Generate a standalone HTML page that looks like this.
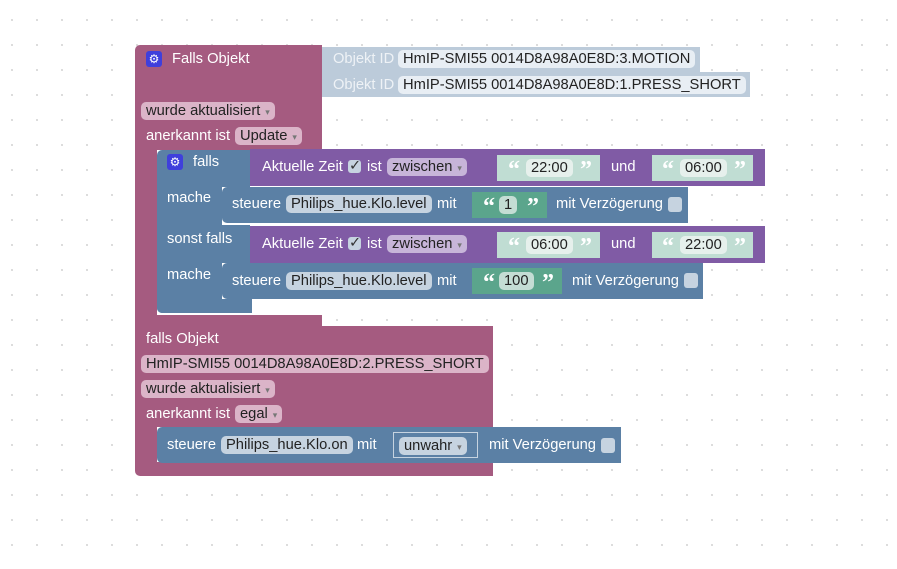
<!DOCTYPE html>
<html><head><meta charset="utf-8"><style>
html,body{margin:0;padding:0;}
body{width:897px;height:569px;position:relative;overflow:hidden;background:#fff;
background-image:radial-gradient(circle,#d6d6d6 0.8px,transparent 1.2px);background-size:25px 25px;background-position:-0.5px 7.5px;
font-family:"Liberation Sans",sans-serif;font-size:14.7px;}
.b{position:absolute;}
.pk{background:#a55b80;}
.pu{background:#805ba5;}
.bl{background:#5b80a5;}
.ob{background:#bccbda;}
.st{background:#c0ddd3;}
.gr{background:#5ba58c;}
.t{position:absolute;color:#fff;white-space:nowrap;line-height:18px;}
.f{position:absolute;border-radius:5px;color:#222;white-space:nowrap;line-height:18px;padding:0 5px;height:18px;}
.fp{background:#dbb4c8;}
.fb{background:#c6d3e0;}
.fpu{background:#c7b5d9;}
.fs{background:#e6f0ec;}
.fg{background:#c4ddd4;}
.dd:after{content:"  ▾";font-size:9px;color:#777;white-space:pre;}
.q{position:absolute;color:#fff;font-weight:bold;font-family:"Liberation Serif",serif;font-size:24px;line-height:24px;}
.gear{position:absolute;width:16px;height:16px;background:#3f3fdc;border-radius:3px;color:#fff;font-size:12px;line-height:16px;text-align:center;}
.cb{position:absolute;width:13px;height:13px;border-radius:3px;background:#c6d3e0;}
</style></head><body>

<!-- Block 1 pink -->
<div class="b pk" style="left:135px;top:45px;width:187px;height:105px;border-radius:5px 0 0 0"></div>
<div class="b pk" style="left:135px;top:150px;width:22px;height:176px"></div>
<div class="b pk" style="left:135px;top:315px;width:187px;height:11px"></div>
<div class="gear" style="left:146px;top:51px">⚙</div>
<div class="t" style="left:172px;top:50px">Falls Objekt</div>
<div class="f fp dd" style="left:141px;top:102px">wurde aktualisiert</div>
<div class="t" style="left:146px;top:127px">anerkannt ist</div>
<div class="f fp dd" style="left:235px;top:127px">Update</div>

<!-- Objekt ID -->
<div class="b ob" style="left:322px;top:47px;width:378px;height:25px"></div>
<div class="b ob" style="left:322px;top:72px;width:428px;height:25px"></div>
<div class="t" style="left:333px;top:50px;color:#eef2f6">Objekt ID</div>
<div class="f fs" style="left:398px;top:50px;background:#e8eef4">HmIP-SMI55 0014D8A98A0E8D:3.MOTION</div>
<div class="t" style="left:333px;top:76px;color:#eef2f6">Objekt ID</div>
<div class="f fs" style="left:398px;top:76px;background:#e8eef4">HmIP-SMI55 0014D8A98A0E8D:1.PRESS_SHORT</div>

<!-- blue falls block -->
<div class="b bl" style="left:157px;top:150px;width:93px;height:37px;border-radius:5px 0 0 0"></div>
<div class="b bl" style="left:157px;top:186px;width:65px;height:127px;border-radius:0 0 0 5px"></div>
<div class="b bl" style="left:157px;top:225px;width:93px;height:38px"></div>
<div class="b bl" style="left:157px;top:299px;width:95px;height:14px;border-radius:0 0 0 5px"></div>
<div class="gear" style="left:167px;top:154px">⚙</div>
<div class="t" style="left:193px;top:153px">falls</div>
<div class="t" style="left:167px;top:189px">mache</div>
<div class="t" style="left:167px;top:230px">sonst falls</div>
<div class="t" style="left:167px;top:266px">mache</div>

<!-- purple 1 -->
<div class="b pu" style="left:250px;top:149px;width:515px;height:37px"></div>
<div class="t" style="left:262px;top:158px">Aktuelle Zeit</div>
<div class="cb" style="left:348px;top:160px"></div><div class="t" style="left:349px;top:157px;color:#333">✓</div>
<div class="t" style="left:367px;top:158px">ist</div>
<div class="f fpu dd" style="left:387px;top:158px">zwischen</div>
<div class="b st" style="left:497px;top:155px;width:103px;height:26px"></div>
<div class="q" style="left:508px;top:158px">“</div><div class="f fs" style="left:526px;top:159px">22:00</div><div class="q" style="left:580px;top:158px">”</div>
<div class="t" style="left:611px;top:158px">und</div>
<div class="b st" style="left:652px;top:155px;width:101px;height:26px"></div>
<div class="q" style="left:662px;top:158px">“</div><div class="f fs" style="left:680px;top:159px">06:00</div><div class="q" style="left:734px;top:158px">”</div>

<!-- steuere 1 -->
<div class="b bl" style="left:222px;top:187px;width:466px;height:36px;border-radius:5px 0 0 5px"></div>
<div class="t" style="left:232px;top:195px">steuere</div>
<div class="f fb" style="left:286px;top:195px">Philips_hue.Klo.level</div>
<div class="t" style="left:437px;top:195px">mit</div>
<div class="b gr" style="left:472px;top:192px;width:75px;height:26px"></div>
<div class="q" style="left:483px;top:195px">“</div><div class="f fg" style="left:499px;top:196px">1</div><div class="q" style="left:527px;top:195px">”</div>
<div class="t" style="left:556px;top:195px">mit Verzögerung</div>
<div class="cb" style="left:668px;top:197px;width:14px;height:15px"></div>

<!-- purple 2 -->
<div class="b pu" style="left:250px;top:226px;width:515px;height:37px"></div>
<div class="t" style="left:262px;top:235px">Aktuelle Zeit</div>
<div class="cb" style="left:348px;top:237px"></div><div class="t" style="left:349px;top:234px;color:#333">✓</div>
<div class="t" style="left:367px;top:235px">ist</div>
<div class="f fpu dd" style="left:387px;top:235px">zwischen</div>
<div class="b st" style="left:497px;top:232px;width:103px;height:26px"></div>
<div class="q" style="left:508px;top:235px">“</div><div class="f fs" style="left:526px;top:236px">06:00</div><div class="q" style="left:580px;top:235px">”</div>
<div class="t" style="left:611px;top:235px">und</div>
<div class="b st" style="left:652px;top:232px;width:101px;height:26px"></div>
<div class="q" style="left:662px;top:235px">“</div><div class="f fs" style="left:680px;top:236px">22:00</div><div class="q" style="left:734px;top:235px">”</div>

<!-- steuere 2 -->
<div class="b bl" style="left:222px;top:263px;width:481px;height:36px;border-radius:5px 0 0 5px"></div>
<div class="t" style="left:232px;top:272px">steuere</div>
<div class="f fb" style="left:286px;top:272px">Philips_hue.Klo.level</div>
<div class="t" style="left:437px;top:272px">mit</div>
<div class="b gr" style="left:472px;top:268px;width:90px;height:26px"></div>
<div class="q" style="left:483px;top:271px">“</div><div class="f fg" style="left:499px;top:272px">100</div><div class="q" style="left:542px;top:271px">”</div>
<div class="t" style="left:572px;top:272px">mit Verzögerung</div>
<div class="cb" style="left:684px;top:273px;width:14px;height:15px"></div>

<!-- Block 2 pink -->
<div class="b pk" style="left:135px;top:326px;width:358px;height:101px"></div>
<div class="b pk" style="left:135px;top:427px;width:22px;height:40px"></div>
<div class="b pk" style="left:135px;top:462px;width:358px;height:14px;border-radius:0 0 0 5px"></div>
<div class="t" style="left:146px;top:330px">falls Objekt</div>
<div class="f fp" style="left:141px;top:355px">HmIP-SMI55 0014D8A98A0E8D:2.PRESS_SHORT</div>
<div class="f fp dd" style="left:141px;top:380px">wurde aktualisiert</div>
<div class="t" style="left:146px;top:405px">anerkannt ist</div>
<div class="f fp dd" style="left:235px;top:405px">egal</div>

<div class="b bl" style="left:157px;top:427px;width:464px;height:36px;border-radius:5px 0 0 5px"></div>
<div class="t" style="left:167px;top:436px">steuere</div>
<div class="f fb" style="left:221px;top:436px">Philips_hue.Klo.on</div>
<div class="t" style="left:357px;top:436px">mit</div>
<div class="b" style="left:393px;top:432px;width:85px;height:26px;border:1px solid #c6d3e0;box-sizing:border-box;background:#5b80a5"></div>
<div class="f fb dd" style="left:399px;top:437px">unwahr</div>
<div class="t" style="left:489px;top:436px">mit Verzögerung</div>
<div class="cb" style="left:601px;top:438px;width:14px;height:15px"></div>

</body></html>
